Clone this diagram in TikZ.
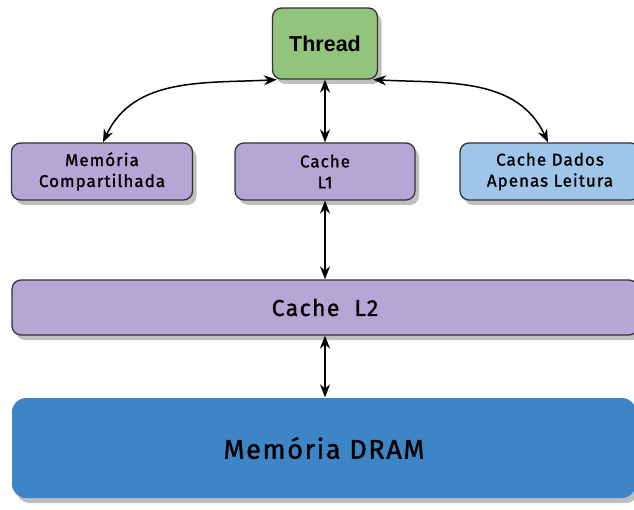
\documentclass[tikz,border=0pt]{standalone}
\usepackage{fontspec}
\setmainfont{Liberation Sans}
\newfontfamily\boxfont[LetterSpace=6, FakeBold=1.2]{Fira Sans}
\usetikzlibrary{arrows.meta,shadows}

\definecolor{thgreen}{HTML}{93C47D}
\definecolor{cachepurple}{HTML}{B4A7D6}
\definecolor{roblue}{HTML}{9FC5E8}
\definecolor{drblue}{HTML}{3D85C6}

\tikzset{
  unit/.style={draw=black!80, line width=1.3pt, rounded corners=9pt, align=center,
    inner sep=0pt, font=\boxfont\fontsize{17}{21}\selectfont,
    drop shadow={shadow xshift=4pt, shadow yshift=-5pt, fill=black!50}},
  dbl/.style={{Stealth[length=13pt,width=10pt]}-{Stealth[length=13pt,width=10pt]}, line width=1.5pt}
}

\begin{document}
\begin{tikzpicture}[x=1pt, y=-1pt]
  \useasboundingbox (0,0) rectangle (634,510);
  \clip (0,0) rectangle (634,510);

  \node[unit, fill=thgreen, minimum width=105pt, minimum height=71pt,
        font=\bfseries\fontsize{21.5}{24}\selectfont] (thread) at (325,43.5) {Thread};

  \node[unit, fill=cachepurple, minimum width=181pt, minimum height=57pt] (shmem) at (102,171.5) {Memória\\Compartilhada};
  \node[unit, fill=cachepurple, minimum width=180pt, minimum height=57pt] (cachel1) at (325,171.5) {Cache\\L1};
  \node[unit, fill=roblue, minimum width=180pt, minimum height=57pt] (rocache) at (550,171.5) {Cache Dados\\Apenas Leitura};

  \node[unit, fill=cachepurple, minimum width=626pt, minimum height=55pt,
        font=\boxfont\fontsize{23}{26}\selectfont] (cachel2) at (325,307.5) {Cache\ \ L2};

  \node[unit, draw=none, fill=drblue, rounded corners=14pt, minimum width=624pt, minimum height=100pt,
        font=\boxfont\fontsize{27}{30}\selectfont] (dram) at (324,448) {Memória DRAM};

  \draw[dbl] ([xshift=5pt]thread.south west) to[out=183, in=65] ([xshift=1pt]shmem.north);
  \draw[dbl] ([xshift=-5pt]thread.south east) to[out=-3, in=115] ([xshift=-2pt]rocache.north);
  \foreach \a/\b in {thread/cachel1, cachel1/cachel2, cachel2/dram}
    \draw[dbl] (\a) -- (\a |- \b.north);
\end{tikzpicture}
\end{document}
